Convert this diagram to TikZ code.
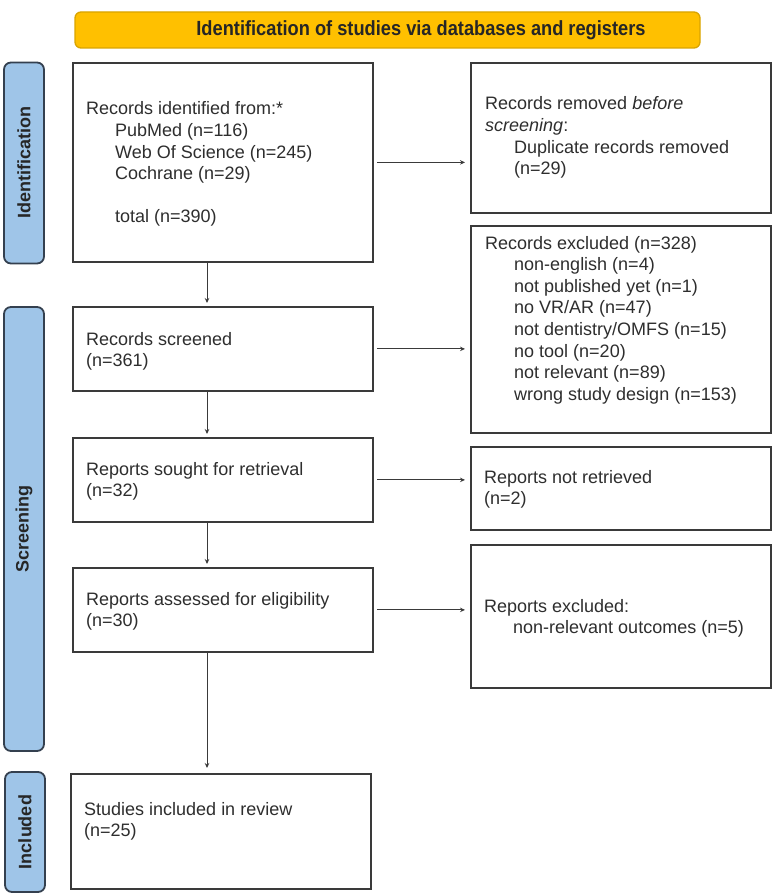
\documentclass[tikz,border=0pt]{standalone}
\usepackage{fontspec}
\setmainfont{Liberation Sans}
\usepackage{graphicx}
\usetikzlibrary{arrows.meta}
\definecolor{pillfill}{HTML}{9FC5E8}
\definecolor{pilldraw}{HTML}{34404F}
\definecolor{banfill}{HTML}{FFC000}
\definecolor{bandraw}{HTML}{D9A400}
\definecolor{boxdraw}{HTML}{3A3A3A}
\definecolor{txtcol}{HTML}{2E2E2E}
\tikzset{
  box/.style={draw=boxdraw, line width=1.8pt, fill=white, inner sep=0pt, anchor=north west},
  txt/.style={inner sep=0pt, anchor=base west, text=txtcol, font=\fontsize{18}{21.6}\selectfont},
  pill/.style={draw=pilldraw, line width=1.8pt, fill=pillfill, rounded corners=7pt, rotate=90,
    inner sep=0pt, text=black!85, font=\bfseries\fontsize{18}{21.6}\selectfont},
  arr/.style={draw=boxdraw, line width=1pt, -{Stealth[length=5pt,width=4.5pt]}},
}
\newcommand{\ind}{\hspace*{29pt}}
\begin{document}
\begin{tikzpicture}[x=1pt,y=-1pt]
\useasboundingbox (0,0) rectangle (778,896);
% banner
\node[draw=bandraw, line width=1.3pt, fill=banfill, rounded corners=6pt, minimum width=625pt, minimum height=36pt, inner sep=0pt] (banner) at (387.5,30) {};
\node[inner sep=0pt, font=\bfseries\fontsize{20.5}{24}\selectfont, text=black!85] (bantxt) at (421,30)
  {\scalebox{0.89}[1]{Identification of studies via databases and registers}};
% side pills
\node[pill, minimum width=201pt, minimum height=40pt] (pid) at (24,163) {Identification};
\node[pill, minimum width=444pt, minimum height=40pt] (pscr) at (24,529) {Screening};
\node[pill, minimum width=120pt, minimum height=40pt] (pinc) at (25,832) {Included};
% boxes
\node[box, minimum width=300pt, minimum height=199pt] (b1) at (72,62) {};
\node[box, minimum width=300pt, minimum height=150pt] (rem) at (470,62) {};
\node[box, minimum width=300pt, minimum height=84pt] (scr) at (72,306) {};
\node[box, minimum width=300pt, minimum height=207pt] (exc) at (470,225) {};
\node[box, minimum width=300pt, minimum height=84pt] (sou) at (72,437) {};
\node[box, minimum width=300pt, minimum height=83pt] (nre) at (470,446) {};
\node[box, minimum width=300pt, minimum height=84pt] (ass) at (72,567) {};
\node[box, minimum width=300pt, minimum height=143pt] (rex) at (470,544) {};
\node[box, minimum width=300pt, minimum height=115pt] (inc) at (70,773) {};
% texts
\node[txt] (t1) at (86,115) {\begin{tabular}[t]{@{}l@{}}Records identified from:*\\
  \ind PubMed (n=116)\\ \ind Web Of Science (n=245)\\ \ind Cochrane (n=29)\\ \\ \ind total (n=390)\end{tabular}};
\node[txt] (trem) at (485,110) {\begin{tabular}[t]{@{}l@{}}Records removed \textit{before}\\
  \textit{screening}:\\ \ind Duplicate records removed\\ \ind (n=29)\end{tabular}};
\node[txt] (texc) at (485,249) {\begin{tabular}[t]{@{}l@{}}Records excluded (n=328)\\
  \ind non-english (n=4)\\ \ind not published yet (n=1)\\ \ind no VR/AR (n=47)\\
  \ind not dentistry/OMFS (n=15)\\ \ind no tool (n=20)\\ \ind not relevant (n=89)\\
  \ind wrong study design (n=153)\end{tabular}};
\node[txt] (tscr) at (86,345) {\begin{tabular}[t]{@{}l@{}}Records screened\\ (n=361)\end{tabular}};
\node[txt] (tsou) at (86,475) {\begin{tabular}[t]{@{}l@{}}Reports sought for retrieval\\ (n=32)\end{tabular}};
\node[txt] (tnre) at (484,483) {\begin{tabular}[t]{@{}l@{}}Reports not retrieved\\ (n=2)\end{tabular}};
\node[txt] (tass) at (86,605) {\begin{tabular}[t]{@{}l@{}}Reports assessed for eligibility\\ (n=30)\end{tabular}};
\node[txt] (trex) at (484,612) {\begin{tabular}[t]{@{}l@{}}Reports excluded:\\ \ind non-relevant outcomes (n=5)\end{tabular}};
\node[txt] (tinc) at (84,815) {\begin{tabular}[t]{@{}l@{}}Studies included in review\\ (n=25)\end{tabular}};
% connectors
\coordinate (sp) at (207,0);
\draw[arr, shorten <=3pt, shorten >=5pt] (b1.east) -- (b1.east -| rem.west);
\draw[arr, shorten <=3pt, shorten >=5pt] (scr.east) -- (scr.east -| exc.west);
\draw[arr, shorten <=3pt, shorten >=5pt] (sou.east) -- (sou.east -| nre.west);
\draw[arr, shorten <=3pt, shorten >=5pt] (ass.east) -- (ass.east -| rex.west);
\draw[arr, shorten >=3pt] (b1.south -| sp) -- (scr.north -| sp);
\draw[arr, shorten >=3pt] (scr.south -| sp) -- (sou.north -| sp);
\draw[arr, shorten >=3pt] (sou.south -| sp) -- (ass.north -| sp);
\draw[arr, shorten >=5pt] (ass.south -| sp) -- (inc.north -| sp);
\end{tikzpicture}
\end{document}
